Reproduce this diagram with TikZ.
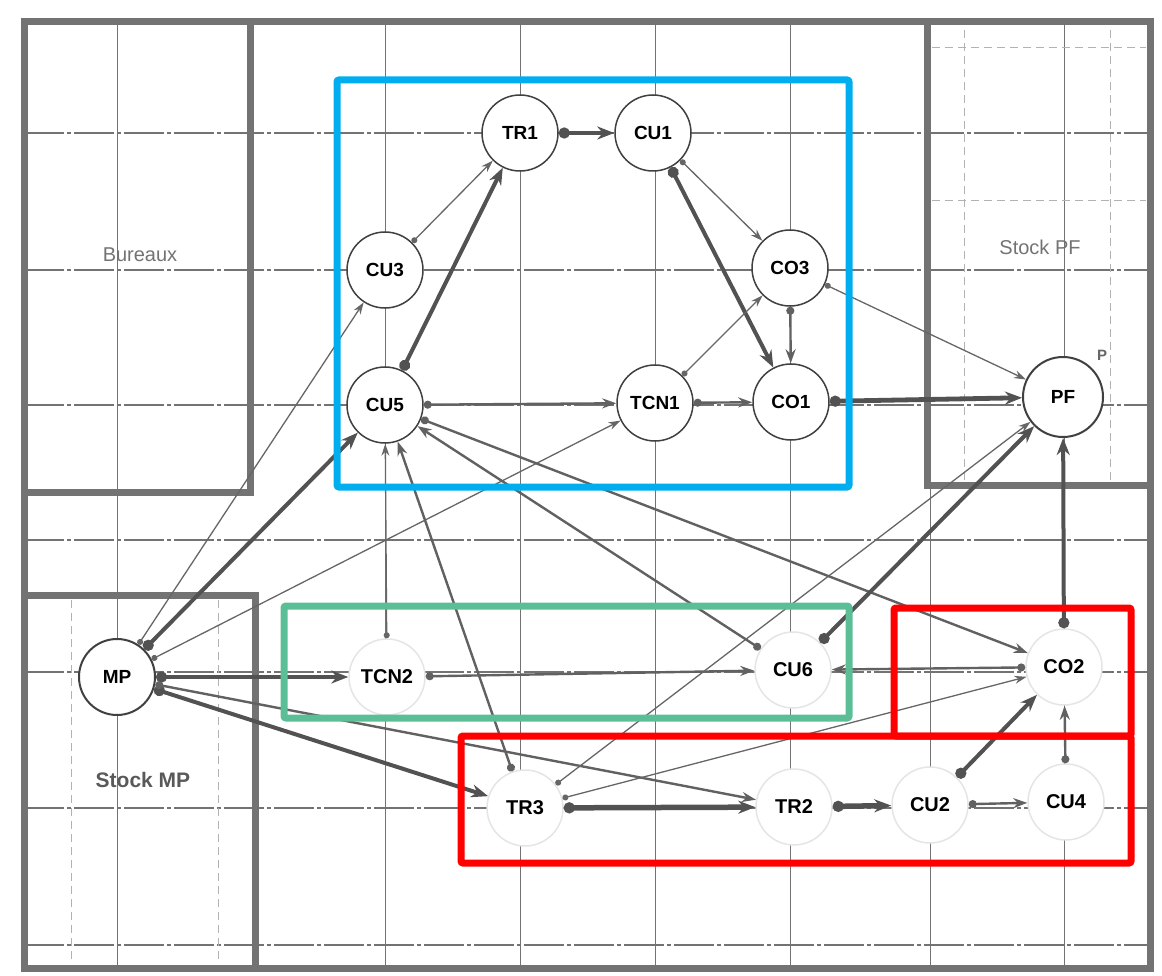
\documentclass[tikz,border=0pt]{standalone}
\usepackage{fontspec}
\setmainfont{Liberation Sans}
\usetikzlibrary{arrows.meta}
\definecolor{hlblue}{RGB}{0,174,239}
\definecolor{hlgreen}{RGB}{92,190,150}
\definecolor{hlred}{RGB}{255,0,0}
\tikzset{
 wall/.style={line width=7pt, draw=black!55},
 gline/.style={line width=1pt, draw=black!55},
 hline/.style={line width=1.1pt, draw=black!55, dash pattern=on 40pt off 3pt on 4pt off 3pt},
 dline/.style={line width=0.8pt, draw=black!30, dash pattern=on 8pt off 5pt},
 stn/.style={circle, minimum size=76pt, inner sep=0pt, fill=white, draw=black!75, line width=1.5pt, font=\bfseries\fontsize{19}{19}\selectfont},
 ftn/.style={stn, draw=black!10, font=\bfseries\fontsize{20}{20}\selectfont},
 ethin/.style={draw=black!60, line width=1.3pt, arrows={Circle[length=6pt]-Stealth[length=12pt,width=8pt]}},
 emed/.style={draw=black!62, line width=2.4pt, arrows={Circle[length=8pt]-Stealth[length=14pt,width=10pt]}},
 ethick/.style={draw=black!68, line width=4pt, arrows={Circle[length=11pt]-Stealth[length=17pt,width=13pt]}},
 hbox/.style={line width=7pt, rounded corners=2pt},
 room/.style={text=black!55, font=\fontsize{20}{20}\selectfont},
}
\begin{document}
\begin{tikzpicture}[x=1pt,y=-1pt]
\useasboundingbox (0,0) rectangle (1162,976);
% floor plan
\foreach \x in {117,385,520,655,790,1064} \draw[gline] (\x,22) -- (\x,968);
\draw[gline] (930,485) -- (930,968);
\foreach \y in {133,270,405,540,672,808,945} \draw[hline] (24,\y) -- (1150,\y);
\foreach \x in {71,218} \draw[dline] (\x,600) -- (\x,962);
\foreach \x in {964,1110} \draw[dline] (\x,30) -- (\x,480);
\foreach \y in {47,200} \draw[dline] (932,\y) -- (1146,\y);
\draw[wall] (24,22) -- (1150,22) -- (1150,968) -- (24,968) -- cycle;
\draw[wall] (250,22) -- (250,492) -- (24,492);
\draw[wall] (24,595) -- (255,595) -- (255,968);
\draw[wall] (927,22) -- (927,485) -- (1150,485);
\node[room] (bur) at (140,255) {Bureaux};
\node[room] (spf) at (1040,247) {Stock PF};
\node[room, text=black!65, font=\bfseries\fontsize{21}{21}\selectfont] (smp) at (143,780) {Stock MP};
% nodes
\node[stn] (TR1) at (520,133) {TR1};
\node[stn] (CU1) at (653,133) {CU1};
\node[stn] (CU3) at (385,270) {CU3};
\node[stn] (CO3) at (790,268) {CO3};
\node[stn] (CU5) at (385,405) {CU5};
\node[stn] (TCN1) at (655,403) {TCN1};
\node[stn] (CO1) at (791,402) {CO1};
\node[stn, minimum size=80pt, line width=2pt] (PF) at (1063,397) {PF};
\node[font=\bfseries\fontsize{15}{15}\selectfont, text=black!60] (P) at (1102,355) {P};
\node[stn, line width=2pt] (MP) at (117,677) {MP};
\node[ftn] (TCN2) at (387,677) {TCN2};
\node[ftn] (CU6) at (793,670) {CU6};
\node[ftn] (CO2) at (1064,667) {CO2};
\node[ftn] (TR3) at (525,808) {TR3};
\node[ftn] (TR2) at (794,807) {TR2};
\node[ftn] (CU2) at (930,805) {CU2};
\node[ftn] (CU4) at (1066,802) {CU4};
% edges
\draw[ethick] (TR1) -- (CU1);
\draw[ethin] (CU3) -- (TR1);
\draw[ethick] (CU5) -- (TR1);
\draw[ethin] (CU1) -- (CO3);
\draw[ethick] (CU1) -- (CO1);
\draw[emed] (CO3) -- (CO1);
\draw[ethin] (TCN1) -- (CO3);
\draw[ethin] (CO3) -- (PF);
\draw[emed] (CU5) -- (TCN1);
\draw[emed] (TCN1) -- (CO1);
\draw[ethick, line width=4.8pt] (CO1) -- (PF);
\draw[ethin] (MP) -- (CU3);
\draw[ethick] (MP) -- (CU5);
\draw[ethin] (MP) -- (TCN1);
\draw[ethick] (MP) -- (TCN2);
\draw[ethick] (MP) -- (TR3);
\draw[emed] (MP) -- (TR2);
\draw[ethin] (TCN2) -- (CU5);
\draw[emed] (TCN2) -- (CU6);
\draw[emed] (TR3) -- (CU5);
\draw[ethick, line width=5.5pt] (TR3) -- (TR2);
\draw[ethin] (TR3) -- (PF);
\draw[ethin] (TR3) -- (CO2);
\draw[emed] (CU6) -- (CU5);
\draw[emed] (CU5) -- (CO2);
\draw[emed] (CO2) -- (CU6);
\draw[ethick] (CO2) -- (PF);
\draw[ethick] (CU2) -- (CO2);
\draw[emed] (CU4) -- (CO2);
\draw[ethick, line width=5.5pt] (TR2) -- (CU2);
\draw[emed] (CU2) -- (CU4);
\draw[ethick] (CU6) -- (PF);
% highlight boxes
\draw[hbox, draw=hlblue] (337,80) rectangle (849,487);
\draw[hbox, draw=hlgreen] (284,606) rectangle (849,718);
\draw[hbox, draw=hlred] (894,608) rectangle (1131,736);
\draw[hbox, draw=hlred] (461,736) rectangle (1131,863);
\end{tikzpicture}
\end{document}
